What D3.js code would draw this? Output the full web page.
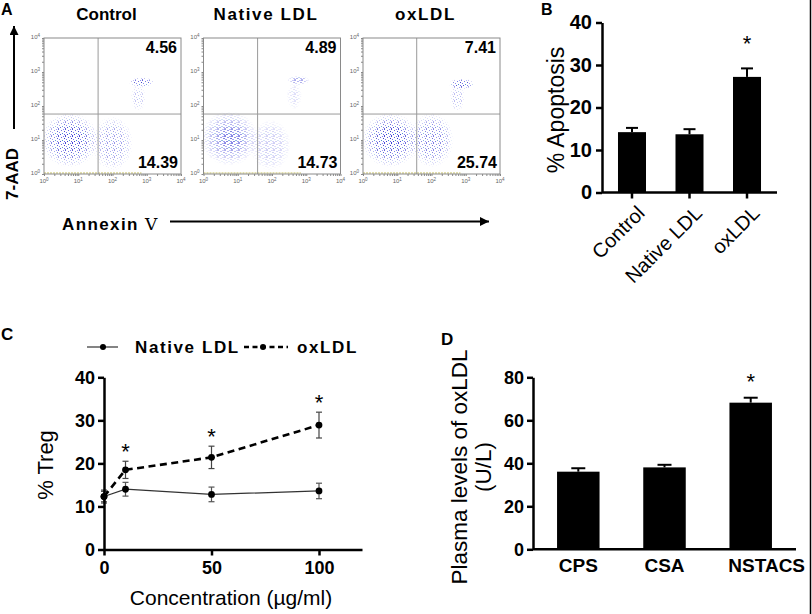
<!DOCTYPE html>
<html>
<head>
<meta charset="utf-8">
<script src="https://cdn.jsdelivr.net/npm/d3@7"></script>
<style>
  body { margin: 0; background: #fff; }
  svg { display: block; font-family: Arial, "Liberation Sans", sans-serif; }
</style>
</head>
<body>
<svg id="fig" width="812" height="614"></svg>
<script>
// ---- panel A: flow plots ----
var flowGroups = ["Control", "Native LDL", "oxLDL"];
var lateApoptotic = ["4.56", "4.89", "7.41"];
var earlyApoptotic = ["14.39", "14.73", "25.74"];
var gateAnnexin = [38, 38, 37];
var gate7aad = [58, 58, 58];
var flowDecades = [0, 1, 2, 3, 4];
// cell populations, in decades: [annexin, 7-AAD, spread x, spread y, density]
var popControl = [[0.75, 1.0, 0.85, 0.8, 0.9], [0.8, 1.05, 0.45, 0.4, 0.7], [2.0, 0.9, 0.6, 0.8, 0.55], [2.85, 2.7, 0.38, 0.14, 0.9], [2.75, 2.25, 0.22, 0.4, 0.35]];
var popNative = [[0.75, 1.05, 0.85, 0.8, 0.9], [0.8, 1.05, 0.45, 0.4, 0.7], [1.95, 0.85, 0.6, 0.75, 0.5], [2.77, 2.75, 0.32, 0.14, 0.9], [2.65, 2.3, 0.22, 0.4, 0.35]];
var popOx = [[0.8, 1.0, 0.85, 0.8, 0.9], [0.85, 1.1, 0.45, 0.4, 0.7], [2.0, 1.0, 0.65, 0.8, 0.7], [2.88, 2.65, 0.38, 0.16, 0.95], [2.75, 2.25, 0.22, 0.42, 0.4]];
var populations = [popControl, popNative, popOx];

// ---- panel B ----
var apoCats = ["Control", "Native LDL", "oxLDL"];
var apoMean = [14.2, 13.7, 27.2];
var apoErr = [1.0, 1.2, 2.0];
var apoSig = [false, false, true];
var apoTicks = [0, 10, 20, 30, 40];

// ---- panel C ----
var conc = [0, 10, 50, 100];
var tregNative = [12.3, 14.0, 12.8, 13.6];
var tregNativeErr = [1.2, 1.6, 1.7, 1.8];
var tregOx = [12.3, 18.5, 21.4, 28.9];
var tregOxErr = [1.5, 2.0, 2.6, 3.0];
var tregSig = [false, true, true, true];
var tregTicks = [0, 10, 20, 30, 40];
var concTicks = [0, 50, 100];

// ---- panel D ----
var groups = ["CPS", "CSA", "NSTACS"];
var plasmaMean = [36.1, 38.1, 68.2];
var plasmaErr = [1.6, 1.2, 2.3];
var plasmaSig = [false, false, true];
var plasmaTicks = [0, 20, 40, 60, 80];

var svg = d3.select("#fig");
var defs = svg.append("defs");

// dot texture for the flow clouds
var pat = defs.append("pattern").attr("id", "dots")
  .attr("patternUnits", "userSpaceOnUse").attr("width", 7).attr("height", 7);
var spots = [[0,0,"#3434d0"],[3,1,"#5555e0"],[6,2,"#2f2fc8"],[1,3,"#6d6df0"],[4,4,"#3a7fd0"],
  [2,5,"#3434d0"],[6,5,"#5a5ae6"],[0,6,"#4040d8"],[5,0,"#7070f0"]];
spots.forEach(function(s){
  pat.append("rect").attr("x", s[0]).attr("y", s[1]).attr("width", 1).attr("height", 1).attr("fill", s[2]);
});
var grad = defs.append("radialGradient").attr("id", "fade");
grad.append("stop").attr("offset", "0%").attr("stop-color", "#fff").attr("stop-opacity", 1);
grad.append("stop").attr("offset", "55%").attr("stop-color", "#fff").attr("stop-opacity", 0.8);
grad.append("stop").attr("offset", "100%").attr("stop-color", "#fff").attr("stop-opacity", 0);
var mask = defs.append("mask").attr("id", "soft").attr("maskContentUnits", "objectBoundingBox");
mask.append("rect").attr("width", 1).attr("height", 1).attr("fill", "url(#fade)");

defs.append("marker").attr("id", "arrow").attr("viewBox", "0 0 10 10")
  .attr("refX", 10).attr("refY", 5).attr("markerWidth", 13).attr("markerHeight", 9)
  .attr("markerUnits", "userSpaceOnUse").attr("orient", "auto")
  .append("path").attr("d", "M0,0L10,5L0,10z").attr("fill", "#000");

function sup(sel, base, exp) {
  sel.text(base);
  sel.append("tspan").attr("baseline-shift", "super").attr("font-size", "4.5px").text(exp);
}

var plotW = 137, plotH = 136;
var plotLeft = [44, 203.5, 363];
var fx = d3.scaleLog().domain([1, 1e4]).range([0, plotW]);
var fy = d3.scaleLog().domain([1, 1e4]).range([plotH, 0]);

flowGroups.forEach(function(name, i) {
  var g = svg.append("g").attr("transform", "translate(" + plotLeft[i] + ",38)");

  // clouds
  var clip = "clipA" + i;
  defs.append("clipPath").attr("id", clip).append("rect").attr("width", plotW).attr("height", plotH);
  var cloud = g.append("g").attr("clip-path", "url(#" + clip + ")");
  cloud.selectAll("ellipse").data(populations[i]).enter().append("ellipse")
    .attr("cx", function(d){ return fx(Math.pow(10, d[0])); })
    .attr("cy", function(d){ return fy(Math.pow(10, d[1])); })
    .attr("rx", function(d){ return fx(Math.pow(10, d[2])) ; })
    .attr("ry", function(d){ return plotH - fy(Math.pow(10, d[3])); })
    .attr("fill", "url(#dots)")
    .attr("fill-opacity", function(d){ return d[4]; })
    .attr("mask", "url(#soft)");
  // events piled on the axis
  cloud.append("line").attr("x1", 0).attr("x2", fx(700)).attr("y1", plotH - 1).attr("y2", plotH - 1)
    .attr("stroke", "#c8c060").attr("stroke-width", 1.2).attr("stroke-dasharray", "2,1");

  // gates
  g.append("line").attr("x1", fx(gateAnnexin[i])).attr("x2", fx(gateAnnexin[i]))
    .attr("y1", 0).attr("y2", plotH).attr("stroke", "#9a9a9a");
  g.append("line").attr("x1", 0).attr("x2", plotW)
    .attr("y1", fy(gate7aad[i])).attr("y2", fy(gate7aad[i])).attr("stroke", "#9a9a9a");
  g.append("rect").attr("width", plotW).attr("height", plotH)
    .attr("fill", "none").attr("stroke", "#8a8a8a");

  // log ticks
  var ay = g.append("g").call(d3.axisLeft(fy).tickValues(fy.ticks()).tickSize(2).tickFormat(""));
  var ax = g.append("g").attr("transform", "translate(0," + plotH + ")")
    .call(d3.axisBottom(fx).tickValues(fx.ticks()).tickSize(2).tickFormat(""));
  [ay, ax].forEach(function(a){
    a.select(".domain").remove();
    a.selectAll("line").attr("stroke", "#888");
  });
  g.selectAll(".ylab").data(flowDecades).enter().append("text").attr("class", "ylab")
    .attr("x", -4).attr("y", function(d){ return fy(Math.pow(10, d)) + 1; })
    .attr("text-anchor", "end").attr("font-size", "6px").attr("fill", "#666")
    .each(function(d){ sup(d3.select(this), "10", d); });
  g.selectAll(".xlab").data(flowDecades).enter().append("text").attr("class", "xlab")
    .attr("x", function(d){ return fx(Math.pow(10, d)); }).attr("y", plotH + 9)
    .attr("text-anchor", "middle").attr("font-size", "6px").attr("fill", "#666")
    .each(function(d){ sup(d3.select(this), "10", d); });

  // quadrant numbers
  g.append("text").attr("x", plotW - 4).attr("y", 15).attr("text-anchor", "end")
    .attr("font-size", "16px").attr("font-weight", "bold").text(lateApoptotic[i]);
  g.append("text").attr("x", plotW - 3).attr("y", 130).attr("text-anchor", "end")
    .attr("font-size", "16px").attr("font-weight", "bold").text(earlyApoptotic[i]);

  // title
  g.append("text").attr("x", plotW / 2 - 6).attr("y", -18).attr("text-anchor", "middle")
    .attr("font-size", "17px").attr("font-weight", "bold")
    .attr("letter-spacing", i === 0 ? "0px" : "1.6px").text(name);
});

svg.append("text").attr("x", 1).attr("y", 15).attr("font-size", "16px").attr("font-weight", "bold").text("A");
svg.append("line").attr("x1", 14).attr("x2", 14).attr("y1", 129).attr("y2", 26)
  .attr("stroke", "#000").attr("stroke-width", 2).attr("marker-end", "url(#arrow)");
svg.append("text").attr("transform", "translate(18,174) rotate(-90)").attr("text-anchor", "middle")
  .attr("font-size", "17px").attr("font-weight", "bold").text("7-AAD");
var ann = svg.append("text").attr("x", 62).attr("y", 230).attr("font-size", "17px")
  .attr("font-weight", "bold").attr("letter-spacing", "1.4px").text("Annexin ");
ann.append("tspan").attr("font-family", "'DejaVu Serif', serif").attr("font-weight", "normal").text("Ⅴ");
svg.append("line").attr("x1", 170).attr("x2", 489).attr("y1", 221.5).attr("y2", 221.5)
  .attr("stroke", "#000").attr("stroke-width", 2).attr("marker-end", "url(#arrow)");

function styleAxis(a) {
  a.select(".domain").attr("stroke-width", 2.5);
  a.selectAll(".tick line").attr("stroke-width", 2.5);
}

// ---- panel B ----
(function(){
  var g = svg.append("g");
  var x = d3.scaleBand().domain(apoCats).range([602, 777]).paddingInner(0.513).paddingOuter(0.278);
  var y = d3.scaleLinear().domain([0, 40]).range([192.5, 22.5]);
  g.selectAll("rect.bar").data(apoMean).enter().append("rect").attr("class", "bar")
    .attr("x", function(d, i){ return x(apoCats[i]); }).attr("width", x.bandwidth())
    .attr("y", function(d){ return y(d); }).attr("height", function(d){ return y(0) - y(d); })
    .attr("fill", "#000");
  apoMean.forEach(function(m, i){
    var cx = x(apoCats[i]) + x.bandwidth() / 2;
    g.append("line").attr("x1", cx).attr("x2", cx).attr("y1", y(m)).attr("y2", y(m + apoErr[i])).attr("stroke", "#000").attr("stroke-width", 2);
    g.append("line").attr("x1", cx - 6).attr("x2", cx + 6).attr("y1", y(m + apoErr[i])).attr("y2", y(m + apoErr[i])).attr("stroke", "#000").attr("stroke-width", 2);
    if (apoSig[i]) g.append("text").attr("x", cx).attr("y", y(m + apoErr[i]) - 17).attr("text-anchor", "middle").attr("font-size", "22px").text("*");
  });
  var ay = g.append("g").attr("transform", "translate(602,0)")
    .call(d3.axisLeft(y).tickValues(apoTicks).tickSize(6).tickSizeOuter(0));
  styleAxis(ay);
  ay.selectAll("text").attr("font-size", "20px").attr("font-weight", "bold").attr("fill", "#000").attr("dx", "-1px");
  var ax = g.append("g").attr("transform", "translate(0,192.5)")
    .call(d3.axisBottom(x).tickSize(6).tickSizeOuter(0));
  styleAxis(ax);
  ax.selectAll("text").attr("font-size", "20px").attr("fill", "#000")
    .attr("text-anchor", "end").attr("x", 0).attr("y", 0).attr("dy", "0.7em")
    .attr("transform", "translate(4,12) rotate(-45)");
  ax.select(".domain").attr("d", "M602,0H777");
  svg.append("text").attr("x", 541).attr("y", 15).attr("font-size", "16px").attr("font-weight", "bold").text("B");
  svg.append("text").attr("transform", "translate(564,110) rotate(-90)").attr("text-anchor", "middle")
    .attr("font-size", "23px").text("% Apoptosis");
})();

// ---- panel C ----
(function(){
  var g = svg.append("g");
  var x = d3.scaleLinear().domain([0, 120]).range([104, 362]);
  var y = d3.scaleLinear().domain([0, 40]).range([549.5, 377.3]);
  var line = d3.line().x(function(d){ return x(d[0]); }).y(function(d){ return y(d[1]); });
  var nat = conc.map(function(c, i){ return [c, tregNative[i], tregNativeErr[i]]; });
  var ox = conc.map(function(c, i){ return [c, tregOx[i], tregOxErr[i]]; });

  function errs(data, color) {
    data.forEach(function(d){
      var cx = x(d[0]);
      g.append("line").attr("x1", cx).attr("x2", cx).attr("y1", y(d[1] - d[2])).attr("y2", y(d[1] + d[2])).attr("stroke", color).attr("stroke-width", 1.2);
      [d[1] - d[2], d[1] + d[2]].forEach(function(v){
        g.append("line").attr("x1", cx - 3).attr("x2", cx + 3).attr("y1", y(v)).attr("y2", y(v)).attr("stroke", color).attr("stroke-width", 1.2);
      });
    });
  }
  errs(nat, "#555");
  errs(ox, "#444");
  g.append("path").datum(nat).attr("d", line).attr("fill", "none").attr("stroke", "#333").attr("stroke-width", 1.2);
  g.append("path").datum(ox).attr("d", line).attr("fill", "none").attr("stroke", "#000").attr("stroke-width", 2.6).attr("stroke-dasharray", "7,4.5");
  g.selectAll("circle.n").data(nat.concat(ox)).enter().append("circle")
    .attr("cx", function(d){ return x(d[0]); }).attr("cy", function(d){ return y(d[1]); }).attr("r", 3.4).attr("fill", "#000");
  ox.forEach(function(d, i){
    if (tregSig[i]) g.append("text").attr("x", x(d[0])).attr("y", y(d[1] + d[2]) - 2).attr("text-anchor", "middle").attr("font-size", "22px").text("*");
  });

  var ay = g.append("g").attr("transform", "translate(104,0)")
    .call(d3.axisLeft(y).tickValues(tregTicks).tickSize(6).tickSizeOuter(0));
  styleAxis(ay);
  ay.selectAll("text").attr("font-size", "18px").attr("font-weight", "bold").attr("fill", "#000");
  var ax = g.append("g").attr("transform", "translate(0,549.5)")
    .call(d3.axisBottom(x).tickValues(concTicks).tickSize(6).tickSizeOuter(0));
  styleAxis(ax);
  ax.selectAll("text").attr("font-size", "18px").attr("font-weight", "bold").attr("fill", "#000").attr("dy", "0.85em");

  svg.append("text").attr("x", 231).attr("y", 605).attr("text-anchor", "middle").attr("font-size", "21px").text("Concentration (µg/ml)");
  svg.append("text").attr("transform", "translate(53,465) rotate(-90)").attr("text-anchor", "middle").attr("font-size", "22px").text("% Treg");
  svg.append("text").attr("x", 1).attr("y", 340).attr("font-size", "17px").attr("font-weight", "bold").text("C");

  // legend
  var lg = svg.append("g").attr("font-size", "17px").attr("font-weight", "bold").attr("letter-spacing", "1.6px");
  lg.append("line").attr("x1", 87).attr("x2", 118).attr("y1", 347).attr("y2", 347).attr("stroke", "#333").attr("stroke-width", 1.2);
  lg.append("circle").attr("cx", 103).attr("cy", 347).attr("r", 3).attr("fill", "#000");
  lg.append("text").attr("x", 135).attr("y", 353).text("Native LDL");
  lg.append("line").attr("x1", 244).attr("x2", 288).attr("y1", 347).attr("y2", 347).attr("stroke", "#000").attr("stroke-width", 2.4).attr("stroke-dasharray", "5,3.5");
  lg.append("circle").attr("cx", 263).attr("cy", 347).attr("r", 3).attr("fill", "#000");
  lg.append("text").attr("x", 297).attr("y", 353).text("oxLDL");
})();

// ---- panel D ----
(function(){
  var g = svg.append("g");
  var x = d3.scaleBand().domain(groups).range([533, 796]).paddingInner(0.507).paddingOuter(0.279);
  var y = d3.scaleLinear().domain([0, 80]).range([549.3, 377.3]);
  g.selectAll("rect.bar").data(plasmaMean).enter().append("rect").attr("class", "bar")
    .attr("x", function(d, i){ return x(groups[i]); }).attr("width", x.bandwidth())
    .attr("y", function(d){ return y(d); }).attr("height", function(d){ return y(0) - y(d); })
    .attr("fill", "#000");
  plasmaMean.forEach(function(m, i){
    var cx = x(groups[i]) + x.bandwidth() / 2;
    g.append("line").attr("x1", cx).attr("x2", cx).attr("y1", y(m)).attr("y2", y(m + plasmaErr[i])).attr("stroke", "#000").attr("stroke-width", 2);
    g.append("line").attr("x1", cx - 7).attr("x2", cx + 7).attr("y1", y(m + plasmaErr[i])).attr("y2", y(m + plasmaErr[i])).attr("stroke", "#000").attr("stroke-width", 2);
    if (plasmaSig[i]) g.append("text").attr("x", cx).attr("y", y(m + plasmaErr[i]) - 9).attr("text-anchor", "middle").attr("font-size", "22px").text("*");
  });
  var ay = g.append("g").attr("transform", "translate(533,0)")
    .call(d3.axisLeft(y).tickValues(plasmaTicks).tickSize(6).tickSizeOuter(0));
  styleAxis(ay);
  ay.selectAll("text").attr("font-size", "18px").attr("font-weight", "bold").attr("fill", "#000");
  var ax = g.append("g").attr("transform", "translate(0,549.3)")
    .call(d3.axisBottom(x).tickSize(0).tickSizeOuter(0));
  styleAxis(ax);
  ax.selectAll("text").attr("font-size", "19px").attr("font-weight", "bold").attr("fill", "#000").attr("dy", "1.05em")
    .attr("dx", function(d, i){ return i === 2 ? "16px" : "0px"; });
  ax.select(".domain").attr("d", "M533,0H796");

  svg.append("text").attr("x", 441).attr("y", 345).attr("font-size", "17px").attr("font-weight", "bold").text("D");
  var t = svg.append("text").attr("transform", "translate(467,467) rotate(-90)").attr("text-anchor", "middle").attr("font-size", "22.5px");
  t.append("tspan").attr("x", 0).attr("dy", 0).text("Plasma levels of oxLDL");
  t.append("tspan").attr("x", 0).attr("dy", "1.05em").text("(U/L)");
})();

// frame edge on the right
svg.append("line").attr("x1", 810.5).attr("x2", 810.5).attr("y1", 0).attr("y2", 614).attr("stroke", "#000").attr("stroke-width", 1.5);
</script>
</body>
</html>
